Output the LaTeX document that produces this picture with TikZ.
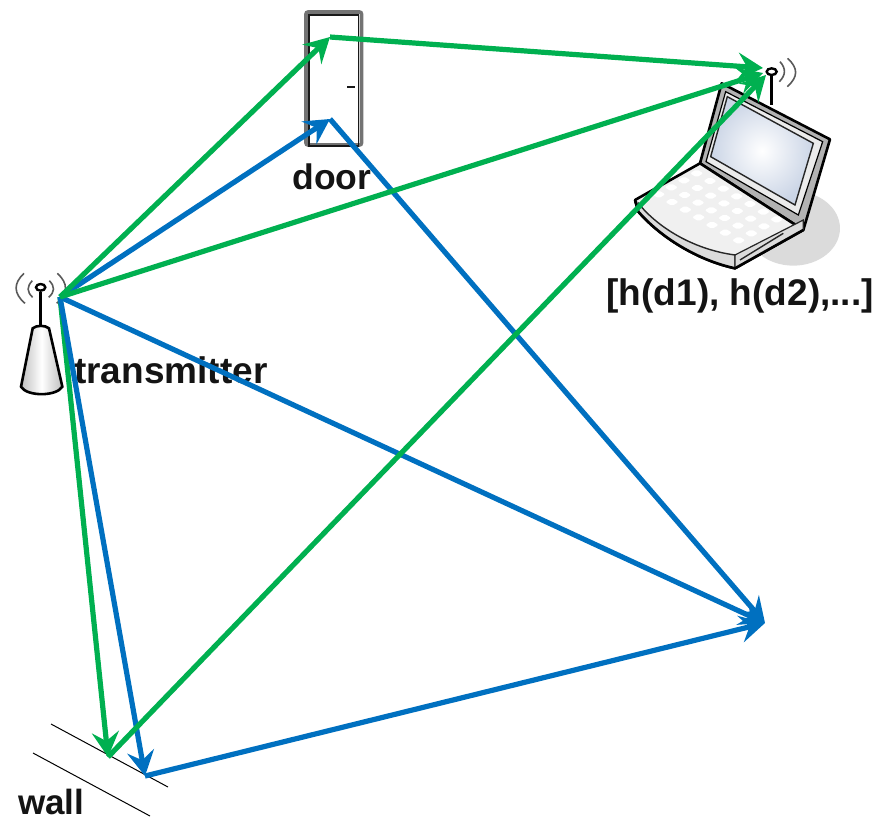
\documentclass[tikz,border=0pt]{standalone}
\usepackage{fontspec}
\setmainfont{Liberation Sans}
\usetikzlibrary{arrows.meta}
\definecolor{gbeam}{HTML}{00B050}
\definecolor{bbeam}{HTML}{0070C0}
\definecolor{inkc}{HTML}{141414}
\definecolor{glass}{HTML}{CBD5E6}
\tikzset{
  beam/.style={line width=5.2pt,-{Stealth[length=25pt,width=27pt,inset=9pt]}},
  gb/.style={beam,draw=gbeam,color=gbeam},
  bb/.style={beam,draw=bbeam,color=bbeam},
  lab/.style={font=\bfseries\fontsize{37}{37}\selectfont,text=inkc,inner sep=0pt},
  wallline/.style={draw=black,line width=1pt},
  wave/.style={draw=black!65,line width=1.6pt},
  ink/.style={draw=black,line width=2.6pt,line join=round}
}
\begin{document}
\begin{tikzpicture}[x=1pt,y=-1pt]
\useasboundingbox (0,0) rectangle (888,817);
% door
\draw[draw=black!55,line width=3.6pt,rounded corners=2pt] (306,12) rectangle (361.5,145);
\draw[draw=black!90,line width=1.6pt] (309,146) -- (309,15) -- (358.5,15) -- (358.5,146) -- cycle;
\draw[draw=black!90,line width=2.8pt] (347,87) -- (355,87);
% laptop
\begin{scope}[shift={(620,40)},x=0.3333pt,y=-0.3333pt]
\fill[black!14] (520,565) ellipse [x radius=140,y radius=112];
\draw[ink,fill=black!30] (305,130) -- (630,298) -- (550,570) -- (240,370) -- cycle;
\draw[draw=black,line width=1.2pt,fill=black!8] (317,155) -- (608,305) -- (535,525) -- (258,365) -- cycle;
\shade[inner color=white,outer color=glass,draw=black!85,line width=1.4pt] (322,170) -- (580,310) -- (525,495) -- (272,350) -- cycle;
\draw[ink,fill=black!6] (45,480) -- (240,370) -- (550,570) -- (345,685) .. controls (230,660) and (120,590) .. (55,515) -- cycle;
\draw[draw=black!85,line width=1.4pt,fill=black!14] (55,490) .. controls (120,570) and (230,630) .. (345,645) -- (345,685) .. controls (230,660) and (120,590) .. (55,515) -- cycle;
\draw[draw=black!85,line width=1.2pt,fill=black!14] (345,645) -- (550,540) -- (550,570) -- (345,685) -- cycle;
\draw[draw=black!85,line width=1.4pt] (360,660) -- (490,580);
\draw[ink,fill=none] (45,480) -- (55,515) .. controls (120,590) and (230,660) .. (345,685) -- (550,570);
\foreach \r in {0,...,3}{
  \foreach \c in {0,...,6}{
    \fill[white,rounded corners=2pt,shift={(230+40*\c-38*\r,400+23*\c+21*\r)}]
      (-20,0) -- (0,-12) -- (20,0) -- (0,12) -- cycle;
  }
}
\draw[ink] (455,195) -- (455,105);
\fill[white] (455,95) ellipse [x radius=16,y radius=12];
\draw[draw=black,line width=2.4pt] (455,95) ellipse [x radius=15,y radius=10];
\draw[wave] (480,65) .. controls (498,85) and (498,105) .. (478,125);
\draw[wave] (503,55) .. controls (535,85) and (535,110) .. (502,140);
\end{scope}
% transmitter
\begin{scope}[shift={(0,260)},x=0.3333pt,y=-0.3333pt]
\draw[ink] (122,195) -- (122,95);
\draw[draw=black,line width=2.4pt,fill=white] (122,82) ellipse [x radius=14,y radius=10];
\draw[wave] (72,40) .. controls (40,70) and (40,100) .. (75,130);
\draw[wave] (172,40) .. controls (205,70) and (205,100) .. (170,130);
\draw[wave] (97,62) .. controls (80,80) and (80,95) .. (98,112);
\draw[wave] (148,62) .. controls (165,80) and (165,95) .. (146,112);
\shade[left color=black!25,right color=black!25,middle color=white,draw=black,line width=2.6pt]
  (98,205) .. controls (110,195) and (135,195) .. (147,205) -- (187,380) .. controls (170,410) and (80,410) .. (63,380) -- cycle;
\end{scope}
% wall
\coordinate (wa1) at (51,724);
\coordinate (wa2) at (168,787);
\coordinate (wb1) at (33,753);
\coordinate (wb2) at (150,816);
\draw[wallline] (wa1) -- (wa2);
\draw[wallline] (wb1) -- (wb2);
% labels
\node[lab,anchor=base,font=\bfseries\fontsize{35.5}{35.5}\selectfont] (doorlab) at (332,189) {door};
\node[lab,anchor=base west] (txlab) at (74,383) {transmitter};
\node[lab,anchor=base east] (rxlab) at (874,305) {[h(d1), h(d2),...]};
\node[lab,anchor=base west,font=\bfseries\fontsize{35}{35}\selectfont] (walllab) at (18,814) {wall};
% beam points
\coordinate (T) at (60,297);
\coordinate (Dg) at (330,37);
\coordinate (Db) at (330,119);
\coordinate (Ra) at (763,68);
\coordinate (Rb) at (763,73);
\coordinate (Rc) at (766,75);
\coordinate (Wg) at (108,757);
\coordinate (Wb) at (145,776);
\coordinate (P) at (765,623);
% beams
\draw[bb] (T) -- (Db);
\draw[bb] (Db) -- (P);
\draw[bb] (T) -- (P);
\draw[bb] (Wb) -- (P);
\draw[gb] (T) -- (Wg);
\draw[bb] (T) -- (Wb);
\draw[gb] (T) -- (Dg);
\draw[gb] (Dg) -- (Ra);
\draw[gb] (T) -- (Rb);
\draw[gb] (Wg) -- (Rc);
\end{tikzpicture}
\end{document}
